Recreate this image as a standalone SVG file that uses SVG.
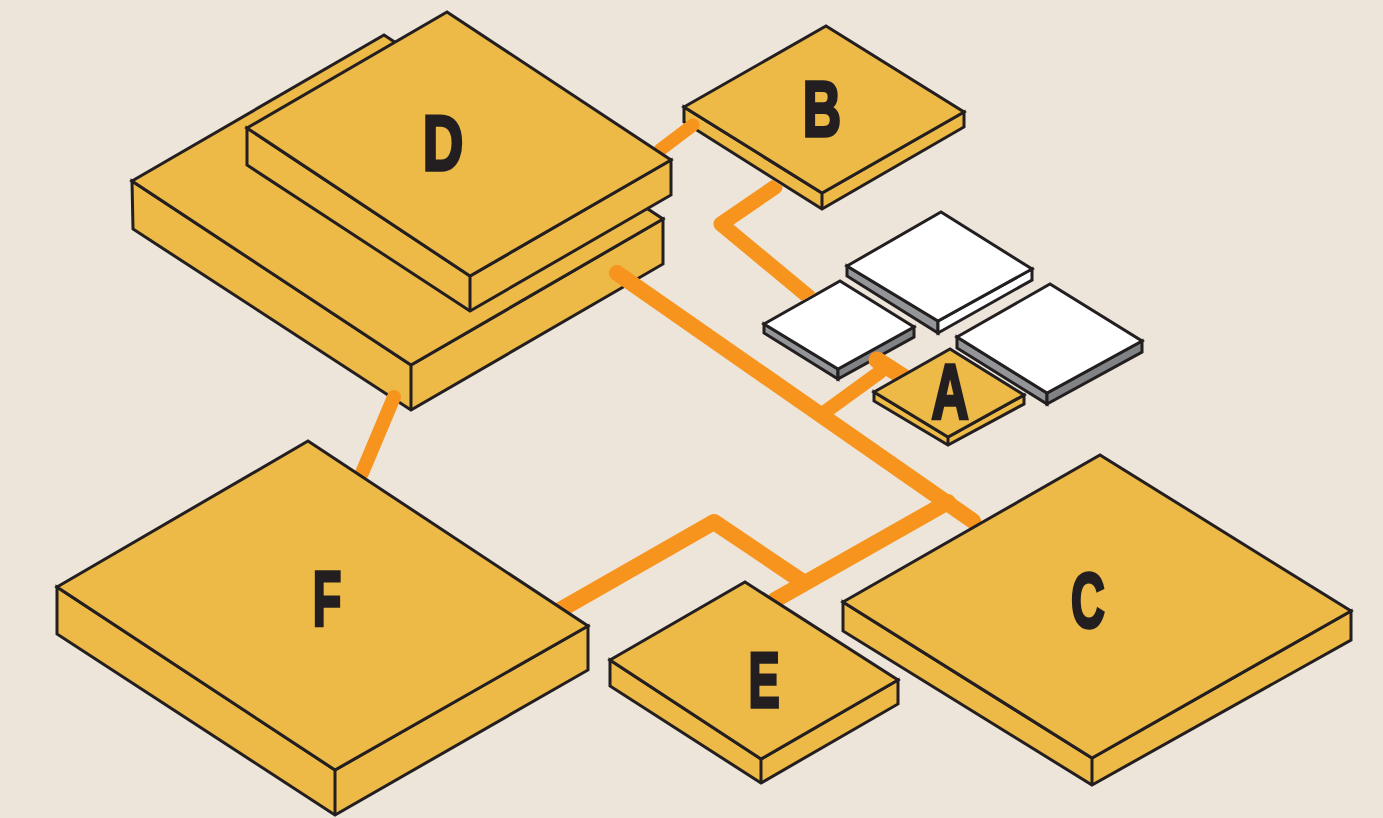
<svg xmlns="http://www.w3.org/2000/svg" width="1383" height="818" viewBox="0 0 1383 818">
<style>
.s{fill:#EDB947;stroke:#231F20;stroke-width:3;stroke-linejoin:miter}
.w{fill:#fff;stroke:#231F20;stroke-width:3}
.g{fill:#939598;stroke:#231F20;stroke-width:3}
.h{fill:#808285;stroke:#231F20;stroke-width:3}
.c{fill:none;stroke:#F7941D;stroke-linecap:round;stroke-linejoin:round}
.l{font-family:"Liberation Sans",Arial,sans-serif;font-weight:700;font-size:78px;fill:#231F20;stroke:#231F20;stroke-width:3.5;text-anchor:middle}
</style>
<defs>
<clipPath id="between-B-and-white-2"><polygon points="700,134 822,211 822,289.5 700,358.5"/></clipPath>
</defs>
<rect width="1383" height="818" fill="#EDE5DA"/>
<g id="node-D-lower">
<path class="s" d="M132 181L133 229L411 410L663 264L663 219L411 365Z"/>
<path class="s" d="M132 181L384 35L663 219L411 365ZM411 365V410"/>
</g>
<g id="node-B">
<path class="s" d="M684 107V122L822 209L964 127V112L822 193Z"/>
<path class="s" d="M684 107L826 26L964 112L822 193ZM822 193V209"/>
<text class="l" transform="translate(822 136) scale(.68 1)">B</text>
</g>
<g id="node-white-2">
<path class="g" d="M764 324V333L838 379V369Z"/>
<path class="h" d="M838 369L914 327V337L838 379Z"/>
<path class="w" d="M764 324L840 281L914 327L838 369Z"/>
</g>
<g id="connectors">
<path class="c" stroke-width="13" d="M660 150L693 125"/>
<path class="c" stroke-width="15" clip-path="url(#between-B-and-white-2)" d="M775 187L721 224L809 297"/>
<path class="c" stroke-width="14" d="M394 397L362 473"/>
<path class="c" stroke-width="16" d="M617 273L973 521"/>
<path class="c" stroke-width="14" d="M825 412L880 372"/>
<path class="c" stroke-width="17" d="M877 360L905 378"/>
<path class="c" stroke-width="16" d="M775 600L948 502"/>
<path class="c" stroke-width="16" d="M560 610L714 522L803 582"/>
</g>
<g id="node-D">
<path class="s" d="M247 128V165L470 311L671 195V160L470 276Z"/>
<path class="s" d="M247 128L447 12L671 160L470 276ZM470 276V311"/>
<text class="l" transform="translate(443 170) scale(.72 1)">D</text>
</g>
<g id="node-white-1">
<path class="g" d="M847 266V276L938 333V321Z"/>
<path class="w" d="M938 321L1032 269V280L938 333Z"/>
<path class="w" d="M847 266L941 212L1032 269L938 321Z"/>
</g>
<g id="node-white-3">
<path class="g" d="M957 337V348L1047 404V393Z"/>
<path class="h" d="M1047 393L1142 341V352L1047 404Z"/>
<path class="w" d="M957 337L1050 284L1142 341L1047 393Z"/>
</g>
<g id="node-A">
<path class="s" d="M874 392V401L948 445L1024 404V395L948 437Z"/>
<path class="s" d="M874 392L950 349L1024 395L948 437ZM948 437V445"/>
<text class="l" transform="translate(950 419) scale(.66 1)">A</text>
</g>
<g id="node-C">
<path class="s" d="M843 602V631L1092 785L1351 640V611L1092 758Z"/>
<path class="s" d="M843 602L1100 455L1351 611L1092 758ZM1092 758V785"/>
<text class="l" transform="translate(1088 627) scale(.6 1)">C</text>
</g>
<g id="node-E">
<path class="s" d="M610 660V686L761 783L898 704V680L761 759Z"/>
<path class="s" d="M610 660L745 582L898 680L761 759ZM761 759V783"/>
<text class="l" transform="translate(764 707) scale(.6 1)">E</text>
</g>
<g id="node-F">
<path class="s" d="M57 587V634L335 815L588 670V626L335 770Z"/>
<path class="s" d="M57 587L308 441L588 626L335 770ZM335 770V815"/>
<text class="l" transform="translate(327 626) scale(.6 1)">F</text>
</g>
</svg>
